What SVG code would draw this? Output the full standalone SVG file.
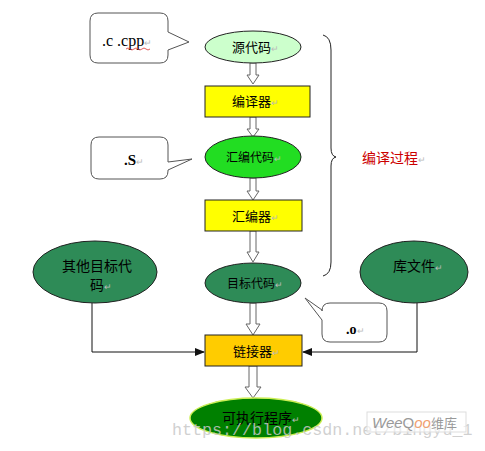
<svg xmlns="http://www.w3.org/2000/svg" width="485" height="451" viewBox="0 0 485 451">
<style>
.cjk{font-family:"Noto Sans CJK SC","Noto Sans",sans-serif;fill:#000}
.ret{fill:#bbb;font-size:9px}
.bub{fill:#fff;stroke:#555;stroke-width:1}
.ha{fill:#fff;stroke:#666;stroke-width:1}
.box{stroke:#222;stroke-width:1}
.conn{fill:none;stroke:#111;stroke-width:1}
.lat{font-family:"Liberation Serif",serif;fill:#000}
</style>
<defs>
<marker id="ah" markerWidth="10" markerHeight="8" refX="9" refY="4" orient="auto" markerUnits="userSpaceOnUse">
<path d="M0,0 L10,4 L0,8 Z" fill="#111"/>
</marker>
</defs>
<rect width="485" height="451" fill="#fff"/>

<g id="connectors">
<polygon class="ha" points="250,63 256,63 256,75 259,75 253,84 247,75 250,75"/>
<polygon class="ha" points="250,117 256,117 256,129 259,129 253,137 247,129 250,129"/>
<polygon class="ha" points="250,178 256,178 256,191 259,191 253,200 247,191 250,191"/>
<polygon class="ha" points="250,231 256,231 256,252 259,252 253,262 247,252 250,252"/>
<polygon class="ha" points="250,303 256,303 256,324 260,324 253,335 246,324 250,324"/>
<polygon class="ha" points="249,366 257,366 257,387 261,387 253,398 245,387 249,387"/>
<polyline class="conn" points="92,303 92,352 204,352" marker-end="url(#ah)"/>
<polyline class="conn" points="417,303 417,352 303,352" marker-end="url(#ah)"/>
</g>

<g id="bubble-c">
<path class="bub" d="M98,13 H160 Q168,13 168,21 V32 L189,42 L168,50 V55 Q168,63 160,63 H98 Q90,63 90,55 V21 Q90,13 98,13 Z"/>
<text class="lat" x="102" y="46" font-size="16">.c .cpp<tspan class="ret" font-family="sans-serif">↵</tspan></text>
<path d="M126,49 q2,-2 4,0 t4,0 t4,0 t4,0 t4,0 t4,0" fill="none" stroke="#d33" stroke-width="0.8"/>
</g>

<g id="src">
<ellipse cx="253" cy="47" rx="48" ry="16" fill="#ccffcc" class="box"/>
<text class="cjk" x="232" y="52" font-size="13">源代码<tspan class="ret">↵</tspan></text>
</g>

<g id="compiler">
<rect x="205" y="86" width="105" height="31" fill="#ffff00" class="box"/>
<text class="cjk" x="232" y="106" font-size="13">编译器<tspan class="ret">↵</tspan></text>
</g>

<g id="bubble-s">
<path class="bub" d="M99,137 H160 Q168,137 168,145 V162 L192,159 L168,170 V171 Q168,179 160,179 H99 Q91,179 91,171 V145 Q91,137 99,137 Z"/>
<text class="lat" x="124" y="165" font-size="15" font-weight="bold">.S<tspan class="ret" font-family="sans-serif" font-weight="normal">↵</tspan></text>
</g>

<g id="asm">
<ellipse cx="253" cy="157" rx="48" ry="21" fill="#22dd22" class="box"/>
<text class="cjk" x="226" y="162" font-size="12">汇编代码<tspan class="ret">↵</tspan></text>
</g>

<g id="assembler">
<rect x="205" y="200" width="97" height="31" fill="#ffff00" class="box"/>
<text class="cjk" x="232" y="221" font-size="13">汇编器<tspan class="ret">↵</tspan></text>
</g>

<g id="brace">
<path d="M323,35 Q331,37 331,50 L331,148 Q331,156 336,157 Q331,158 331,166 L331,262 Q331,274 323,276" fill="none" stroke="#222" stroke-width="1"/>
<text x="362" y="163" font-size="14" font-family="Noto Sans CJK SC,sans-serif" fill="#cc0000">编译过程<tspan class="ret">↵</tspan></text>
</g>

<g id="other">
<ellipse cx="95" cy="272" rx="62" ry="31" fill="#2e8b57" class="box"/>
<text class="cjk" x="62" y="271" font-size="14">其他目标代</text>
<text class="cjk" x="90" y="290" font-size="14">码<tspan class="ret" fill="#6a6">↵</tspan></text>
</g>

<g id="obj">
<ellipse cx="253" cy="283" rx="48" ry="20" fill="#2e8b57" class="box"/>
<text class="cjk" x="227" y="288" font-size="12">目标代码<tspan class="ret" fill="#6a6">↵</tspan></text>
</g>

<g id="lib">
<ellipse cx="414" cy="272" rx="54" ry="31" fill="#2e8b57" class="box"/>
<text class="cjk" x="393" y="271" font-size="14">库文件<tspan class="ret" fill="#6a6">↵</tspan></text>
</g>

<g id="bubble-o">
<path class="bub" d="M330,303 H379 Q387,303 387,311 V334 Q387,342 379,342 H330 Q322,342 322,334 V320 L305,298 L322,310 V311 Q322,303 330,303 Z"/>
<text class="lat" x="346" y="334" font-size="14" font-weight="bold">.o<tspan class="ret" font-family="sans-serif" font-weight="normal">↵</tspan></text>
</g>

<g id="linker">
<rect x="205" y="335" width="97" height="31" fill="#ffcc00" class="box"/>
<text class="cjk" x="233" y="356" font-size="13">链接器<tspan class="ret">↵</tspan></text>
</g>

<g id="exe">
<ellipse cx="256" cy="418" rx="66" ry="20" fill="#008000" stroke="#ccee55" stroke-width="1.5"/>
<text class="cjk" x="222" y="423" font-size="14">可执行程序<tspan class="ret" fill="#6a6">↵</tspan></text>
</g>

<g id="watermark">
<text x="172" y="435" font-family="Liberation Mono,monospace" font-size="16.7" fill="#c8c8c8" fill-opacity="0.85">https://blog.csdn.net/bingyu_1</text>
<rect x="367" y="412" width="99" height="20" fill="#fff" fill-opacity="0.6" stroke="#ddd"/>
<text x="372" y="428" font-family="Liberation Sans,sans-serif" font-size="15" font-style="italic" fill="#999">Wee<tspan font-style="normal">Q</tspan><tspan fill="#f0a070">oo</tspan><tspan font-family="Noto Sans CJK SC,sans-serif" font-style="normal" font-size="13">维库</tspan></text>
</g>
</svg>
